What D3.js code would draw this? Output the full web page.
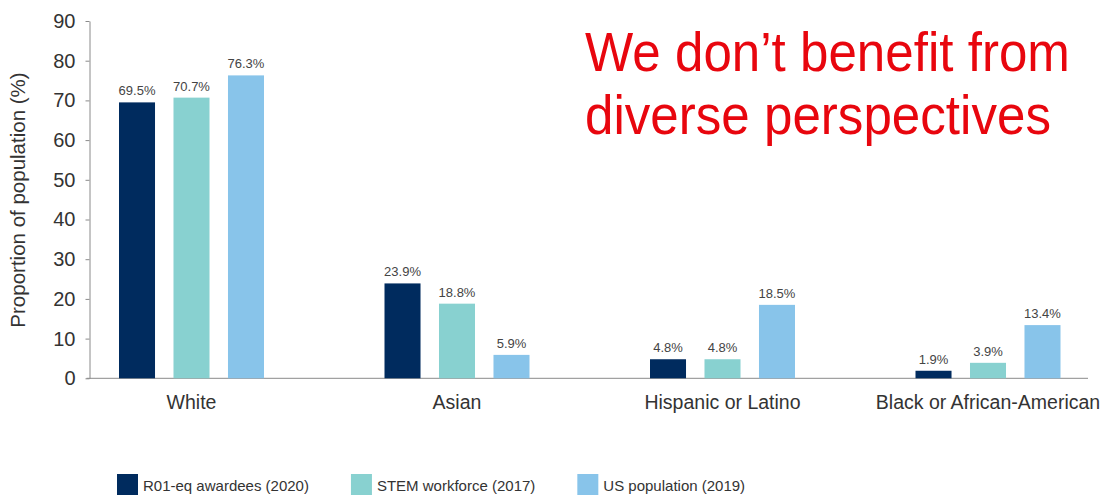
<!DOCTYPE html>
<html>
<head>
<meta charset="utf-8">
<script src="https://cdn.jsdelivr.net/npm/d3@7"></script>
<style>
  body { margin: 0; background: #fff; }
  svg { display: block; }
  text { font-family: "Liberation Sans", Arial, Helvetica, sans-serif; }
</style>
</head>
<body>
<svg id="chart" width="1109" height="496"></svg>
<script>
// Share of each group, in percent
const categories = ["White", "Asian", "Hispanic or Latino", "Black or African-American"];
const seriesNames = ["R01-eq awardees (2020)", "STEM workforce (2017)", "US population (2019)"];
const r01Awardees = [69.5, 23.9, 4.8, 1.9];
const stemWorkforce = [70.7, 18.8, 4.8, 3.9];
const usPopulation = [76.3, 5.9, 18.5, 13.4];
const seriesColors = ["#002b5e", "#88d1d0", "#88c4ea"];
const yTicks = [0, 10, 20, 30, 40, 50, 60, 70, 80, 90];
const yLabel = "Proportion of population (%)";
const titleLines = ["We don’t benefit from", "diverse perspectives"];

const seriesValues = [r01Awardees, stemWorkforce, usPopulation];
const rows = categories.map((c, i) => ({
  category: c,
  values: seriesNames.map((s, j) => ({ series: s, value: seriesValues[j][i], color: seriesColors[j] }))
}));

const svg = d3.select("#chart");
const axisX = 89.5, baseY = 378.3, topY = 21, axisRight = 1088;

const x = d3.scaleBand().domain(categories).range([58.75, 1120.75]).padding(0);
const xInner = d3.scaleBand().domain(seriesNames).range([-72.5, 72.5]).paddingInner(0.339).paddingOuter(0);
const y = d3.scaleLinear().domain([0, 90]).range([baseY, topY]);

// Y axis
const yAxis = svg.append("g")
  .attr("transform", `translate(${axisX},0)`)
  .call(d3.axisLeft(y).tickValues(yTicks).tickSize(4).tickSizeOuter(0).tickPadding(10));
yAxis.select(".domain").attr("stroke", "#8a8a8a");
yAxis.selectAll(".tick line").attr("stroke", "#8a8a8a");
yAxis.selectAll(".tick text")
  .attr("font-size", 20)
  .attr("fill", "#333")
  .style("font-family", '"Liberation Sans", Arial, sans-serif');

// Baseline
svg.append("line")
  .attr("x1", axisX - 3).attr("x2", axisRight)
  .attr("y1", baseY).attr("y2", baseY)
  .attr("stroke", "#8a8a8a").attr("stroke-width", 1);

// Y axis title
svg.append("text")
  .attr("transform", `translate(25,${(70 + 330) / 2}) rotate(-90)`)
  .attr("text-anchor", "middle")
  .attr("font-size", 20.5)
  .attr("fill", "#333")
  .text(yLabel);

// Bars and value labels
const groups = svg.selectAll(".group")
  .data(rows)
  .join("g")
  .attr("class", "group")
  .attr("transform", d => `translate(${x(d.category) + x.bandwidth() / 2},0)`);

groups.selectAll("rect")
  .data(d => d.values)
  .join("rect")
  .attr("x", d => xInner(d.series))
  .attr("width", xInner.bandwidth())
  .attr("y", d => y(d.value))
  .attr("height", d => y(0) - y(d.value))
  .attr("fill", d => d.color);

groups.selectAll(".val")
  .data(d => d.values)
  .join("text")
  .attr("class", "val")
  .attr("x", d => xInner(d.series) + xInner.bandwidth() / 2)
  .attr("y", d => y(d.value) - 7)
  .attr("text-anchor", "middle")
  .attr("font-size", 13)
  .attr("fill", "#444")
  .text(d => d.value.toFixed(1) + "%");

// Category labels
svg.selectAll(".cat")
  .data(categories)
  .join("text")
  .attr("class", "cat")
  .attr("x", d => x(d) + x.bandwidth() / 2)
  .attr("y", 409)
  .attr("text-anchor", "middle")
  .attr("font-size", 19.5)
  .attr("fill", "#333")
  .text(d => d);

// Legend
const legend = svg.append("g");
let lx = 117;
seriesNames.forEach((s, j) => {
  const item = legend.append("g").attr("transform", `translate(${lx},0)`);
  item.append("rect").attr("x", 0).attr("y", 474).attr("width", 21).attr("height", 21).attr("fill", seriesColors[j]);
  const t = item.append("text")
    .attr("x", 26).attr("y", 491)
    .attr("font-size", 15)
    .attr("fill", "#333")
    .text(s);
  lx += 26 + t.node().getComputedTextLength() + 42;
});

// Headline: two lines, condensed horizontally to fit the upper-right space
const headline = svg.append("text")
  .attr("font-size", 56)
  .attr("fill", "#e8060e");
headline.selectAll("tspan")
  .data(titleLines)
  .join("tspan")
  .attr("x", 0)
  .attr("y", (d, i) => i * 63)
  .text(d => d);
const firstLineWidth = headline.select("tspan").node().getComputedTextLength();
const squeeze = 485 / firstLineWidth;
headline.attr("transform", `translate(585,71) scale(${squeeze},1)`);
</script>
</body>
</html>
